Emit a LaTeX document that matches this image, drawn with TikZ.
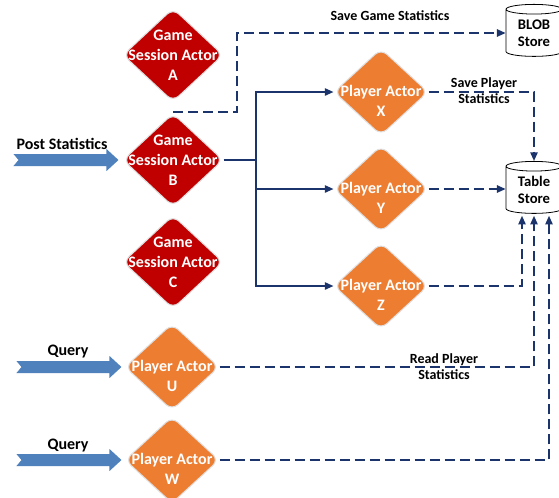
\documentclass[tikz,border=0pt]{standalone}
\usepackage{fontspec}
\setmainfont{Carlito}
\usetikzlibrary{arrows.meta,shapes.geometric,calc}

\definecolor{gamered}{RGB}{192,0,0}
\definecolor{playerorange}{RGB}{237,125,49}
\definecolor{inputblue}{RGB}{79,129,189}
\definecolor{flownavy}{RGB}{28,52,108}

\tikzset{
  actor/.style = {diamond, rounded corners=6pt, inner sep=0pt, draw=black!12, line width=0.8pt},
  gameactor/.style = {actor, fill=gamered, minimum width=75pt, minimum height=70pt},
  playeractor/.style = {actor, fill=playerorange, minimum width=70.5pt, minimum height=65pt},
  actortext/.style = {text=white, font=\fontsize{12}{15}\selectfont\bfseries, align=center},
  store/.style = {cylinder, shape border rotate=90, aspect=0.3, draw, fill=white, line width=0.6pt,
    minimum width=42pt, minimum height=39pt, inner sep=0pt,
    font=\fontsize{11}{13}\selectfont\bfseries, align=center},
  flow/.style = {draw=flownavy, line width=1.2pt, -{Triangle[length=6.5pt,width=5.5pt]}},
  saveflow/.style = {flow, dash pattern=on 7.5pt off 3.75pt},
  caption/.style = {font=\fontsize{10.5}{12}\selectfont\bfseries, align=center},
  request/.style = {font=\fontsize{12}{14}\selectfont\bfseries},
  % fat input arrow, tip at the origin
  blockarrow/.pic = {
    \fill[inputblue] (0,0) -- (-12,-11) -- (-12,-6) -- (-105,-6) -- (-100,0)
      -- (-105,6) -- (-12,6) -- (-12,11) -- cycle;
  }
}

\begin{document}
\begin{tikzpicture}[x=0.75pt, y=-0.75pt]
  \useasboundingbox (0,0) rectangle (559,497);

  % game sessions
  \node[gameactor, label={[actortext]center:Game\\Session Actor\\A}] (gameA) at (173,55) {};
  \node[gameactor, label={[actortext]center:Game\\Session Actor\\B}] (gameB) at (173,160) {};
  \node[gameactor, label={[actortext]center:Game\\Session Actor\\C}] (gameC) at (173,262) {};

  % players
  \node[playeractor, label={[actortext, yshift=-7pt]center:Player Actor\\X}] (playerX) at (381,92) {};
  \node[playeractor, label={[actortext, yshift=-7pt]center:Player Actor\\Y}] (playerY) at (381,189) {};
  \node[playeractor, label={[actortext, yshift=-7pt]center:Player Actor\\Z}] (playerZ) at (381,286) {};
  \node[playeractor, label={[actortext, yshift=-7pt]center:Player Actor\\U}] (playerU) at (172,367) {};
  \node[playeractor, label={[actortext, yshift=-7pt]center:Player Actor\\W}] (playerW) at (172,460) {};

  % storage
  \node[store] (blob) at (534,33) {BLOB\\Store};
  \node[store] (table) at (534,190) {Table\\Store};

  % incoming requests
  \pic at ($(gameB.west)+(-4,0)$) {blockarrow};
  \pic at ($(playerU.west)+(-3,0)$) {blockarrow};
  \pic at ($(playerW.west)+(-3,0)$) {blockarrow};
  \node[request] (poststats) at (62,144) {Post Statistics};
  \node[request] (queryU) at (68,351) {Query};
  \node[request] (queryW) at (68,445) {Query};

  % B fans out to the players
  \coordinate (split) at (256,160);
  \draw[flow, -] (gameB.east) -- (split);
  \draw[flow] (split) |- (playerX.west);
  \draw[flow] (split) |- (playerY.west);
  \draw[flow] (split) |- (playerZ.west);

  % writes
  \coordinate (gameAout) at (173,112);
  \draw[saveflow] (gameAout) -- ++(64,0) |- (blob.west);
  \draw[saveflow] (playerX.east) -| (table.north);
  \draw[saveflow] (playerY.east) -- (playerY.east -| table.west);
  \draw[saveflow] (playerZ.east) -| ($(table.south)+(-12,2)$);

  % reads
  \draw[saveflow] (playerU.east) -| ($(table.south)+(0,2)$);
  \draw[saveflow] (playerW.east) -| ($(table.south)+(15,2)$);

  \node[caption] (savegame) at (390,16) {Save Game Statistics};
  \node[caption] (saveplayer) at (484,91) {Save Player\\Statistics};
  \node[caption] (readplayer) at (444,367) {Read Player\\Statistics};
\end{tikzpicture}
\end{document}
